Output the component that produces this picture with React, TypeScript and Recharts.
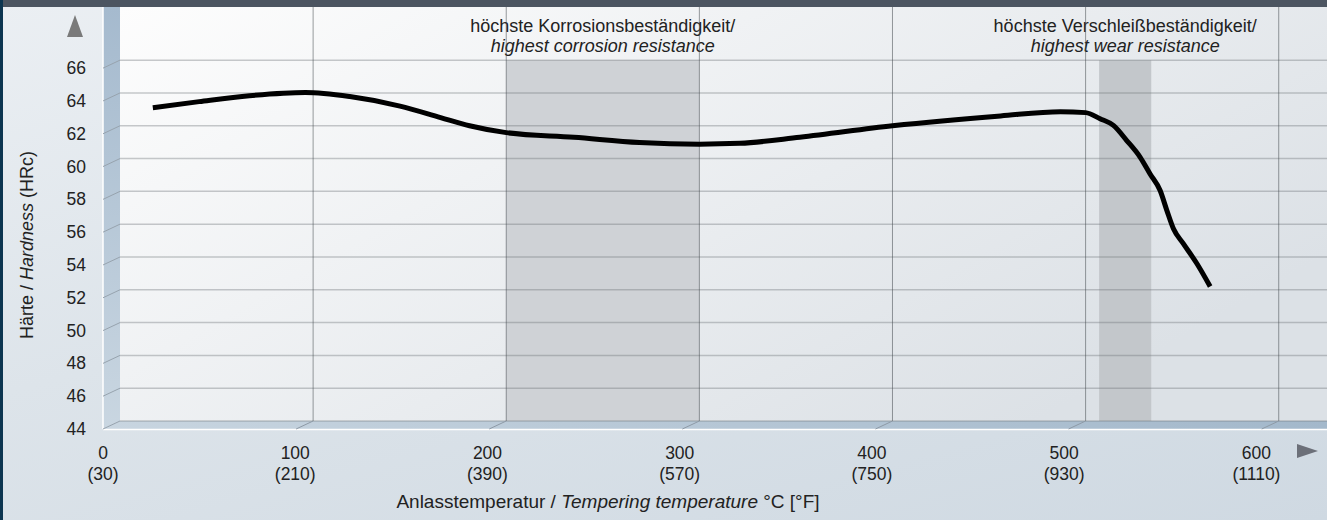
import {
  ComposedChart,
  Line,
  XAxis,
  YAxis,
  ReferenceArea,
  ReferenceLine,
} from "recharts";

// tempering temperature in °C
const temps = [
  17, 41, 67, 96, 119, 145, 166, 181, 200, 235, 269, 300, 321, 352, 400, 456,
  487, 500, 507.5, 514.4, 521.3, 528.2, 533.4, 538.6, 542.1, 545.5, 550.7,
  557.6, 564.5,
];
// hardness in HRc
const hardness = [
  63.1, 63.47, 63.83, 64.03, 63.78, 63.2, 62.5, 62.0, 61.58, 61.3, 60.98, 60.88,
  60.93, 61.3, 62.0, 62.6, 62.86, 62.8, 62.43, 62.02, 61.1, 60.09, 59.06, 58.05,
  56.83, 55.72, 54.8, 53.6, 52.2,
];

const xTicks = [0, 100, 200, 300, 400, 500, 600];
const xTicksF = ["(30)", "(210)", "(390)", "(570)", "(750)", "(930)", "(1110)"];
const yTicks = [44, 46, 48, 50, 52, 54, 56, 58, 60, 62, 64, 66];

const corrosionBand = [200, 300];
const wearBand = [507, 534];

const data = temps.map((t, i) => ({ temp: t, hardness: hardness[i] }));

const FONT = "'Liberation Sans', Arial, Helvetica, sans-serif";
const TEXT = "#222";
const DX = 17; // depth offset of the pseudo 3d front plane
const DY = 8;

const Wall = (p: any) => {
  const { x, y, width, height } = p;
  const b = y + height;
  return (
    <g>
      <polygon
        points={`${x - DX},${y} ${x},${y} ${x},${b} ${x - DX},${b + DY}`}
        fill="url(#sideGrad)"
      />
      <polygon
        points={`${x - DX},${b + DY} ${x},${b} ${x + width},${b} ${x + width},${b + DY}`}
        fill="url(#floorGrad)"
      />
      <rect x={x} y={y} width={width} height={height} fill="url(#wallGrad)" />
      <line x1={x - DX} y1={y} x2={x - DX} y2={b + DY} stroke="#fff" strokeWidth={1.5} />
      <line x1={x - DX} y1={b + DY + 0.5} x2={x + width} y2={b + DY + 0.5} stroke="#fff" strokeWidth={1.5} />
    </g>
  );
};

const YTick = (p: any) => {
  const { x, y, payload } = p;
  return (
    <g>
      <line x1={x} y1={y} x2={x - DX} y2={y + DY} stroke="#97a3ae" strokeWidth={1} />
      <text
        x={x - 34}
        y={y + DY}
        textAnchor="end"
        dominantBaseline="central"
        fontSize={17.5}
        fontFamily={FONT}
        fill={TEXT}
      >
        {payload.value}
      </text>
    </g>
  );
};

const XTick = (p: any) => {
  const { x, y, payload, index } = p;
  const off = DX + (x - 120) / 220;
  return (
    <g>
      {payload.value !== 0 && (
        <line x1={x} y1={y} x2={x - DX} y2={y + DY} stroke="#8e9aa6" strokeWidth={1} />
      )}
      <text x={x - off} y={y + 38} textAnchor="middle" fontSize={17.5} fontFamily={FONT} fill={TEXT}>
        {payload.value}
      </text>
      <text x={x - off} y={y + 59} textAnchor="middle" fontSize={17.5} fontFamily={FONT} fill={TEXT}>
        {xTicksF[index]}
      </text>
    </g>
  );
};

const bandLabel = (p: any, l1: string, l2: string) => {
  const vb = p.viewBox || {};
  const cx = vb.x + vb.width / 2;
  return (
    <g>
      <text x={cx} y={vb.y - 28.5} textAnchor="middle" fontSize={18} fontFamily={FONT} fill={TEXT}>
        {l1}
      </text>
      <text
        x={cx}
        y={vb.y - 8.5}
        textAnchor="middle"
        fontSize={18}
        fontStyle="italic"
        fontFamily={FONT}
        fill={TEXT}
      >
        {l2}
      </text>
    </g>
  );
};

const App = () => {
  return (
    <div
      style={{
        position: "absolute",
        left: 0,
        top: 0,
        width: 1327,
        height: 520,
        overflow: "hidden",
        background: "linear-gradient(165deg, #ebeff3 0%, #dde4ea 45%, #cfd9e2 100%)",
      }}
    >
      <ComposedChart
        width={1327}
        height={520}
        data={data}
        margin={{ top: 7, right: 0, bottom: 0, left: 0 }}
      >
        <defs>
          <linearGradient id="wallGrad" x1="0" y1="0" x2="1" y2="0.6">
            <stop offset="0%" stopColor="#fdfdfd" />
            <stop offset="100%" stopColor="#dce1e6" />
          </linearGradient>
          <linearGradient id="sideGrad" x1="0" y1="0" x2="0" y2="1">
            <stop offset="0%" stopColor="#a5bace" />
            <stop offset="100%" stopColor="#c9d6e1" />
          </linearGradient>
          <linearGradient id="floorGrad" x1="0" y1="0" x2="1" y2="0">
            <stop offset="0%" stopColor="#c8d5e0" />
            <stop offset="100%" stopColor="#a3b8cb" />
          </linearGradient>
        </defs>
        <XAxis
          type="number"
          dataKey="temp"
          domain={[0, 625]}
          ticks={xTicks}
          allowDataOverflow
          height={99}
          axisLine={false}
          tickLine={false}
          tickSize={0}
          tickMargin={0}
          interval={0}
          tick={<XTick />}
        />
        <YAxis
          type="number"
          domain={[44, 69.24]}
          ticks={yTicks}
          allowDataOverflow
          width={120}
          axisLine={false}
          tickLine={false}
          tickSize={0}
          tickMargin={0}
          interval={0}
          tick={<YTick />}
        />
        <ReferenceArea x1={0} x2={625} y1={44} y2={69.24} ifOverflow="visible" shape={Wall} />
        <ReferenceArea
          x1={corrosionBand[0]}
          x2={corrosionBand[1]}
          y1={44}
          y2={66}
          fill="#cfd2d6"
          fillOpacity={1}
          stroke="none"
          label={(p: any) =>
            bandLabel(p, "höchste Korrosionsbeständigkeit/", "highest corrosion resistance")
          }
        />
        <ReferenceArea
          x1={wearBand[0]}
          x2={wearBand[1]}
          y1={44}
          y2={66}
          fill="#c3c7cb"
          fillOpacity={1}
          stroke="none"
          label={(p: any) =>
            bandLabel(p, "höchste Verschleißbeständigkeit/", "highest wear resistance")
          }
        />
        {yTicks.map((v) => (
          <ReferenceLine key={"h" + v} y={v} stroke="rgba(110,116,122,0.38)" strokeWidth={1.5} />
        ))}
        {xTicks
          .filter((v) => v > 0)
          .map((v) => (
            <ReferenceLine key={"v" + v} x={v} stroke="rgba(70,75,80,0.55)" strokeWidth={1} />
          ))}
        <Line
          type="monotone"
          dataKey="hardness"
          stroke="#000"
          strokeWidth={5}
          dot={false}
          activeDot={false}
          isAnimationActive={false}
        />
      </ComposedChart>
      <svg
        width={1327}
        height={520}
        style={{ position: "absolute", left: 0, top: 0, pointerEvents: "none" }}
      >
        <rect x={0} y={0} width={1327} height={7} fill="#4c5561" />
        <rect x={0} y={0} width={3} height={520} fill="#0c3550" />
        <polygon points="67,37 75,15 83,37" fill="#7a7a7a" />
        <polygon points="1297,444 1318,451 1297,458" fill="#6c7079" />
        <text
          transform="translate(33,245) rotate(-90)"
          textAnchor="middle"
          fontSize={18}
          fontFamily={FONT}
          fill={TEXT}
        >
          Härte / <tspan fontStyle="italic">Hardness</tspan> (HRc)
        </text>
        <text x={608} y={508} textAnchor="middle" fontSize={19} fontFamily={FONT} fill={TEXT}>
          Anlasstemperatur / <tspan fontStyle="italic">Tempering temperature</tspan> °C [°F]
        </text>
      </svg>
    </div>
  );
};

export default App;
